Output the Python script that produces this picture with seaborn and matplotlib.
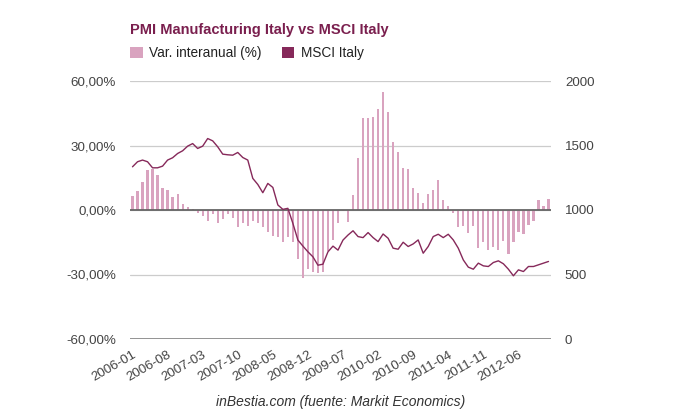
import numpy as np
import pandas as pd
import matplotlib
matplotlib.use("Agg")
import matplotlib.pyplot as plt
from matplotlib.patches import Patch
import seaborn as sns

# ---------------- data ----------------
months = pd.period_range("2006-01", "2012-12", freq="M").strftime("%Y-%m").tolist()

pmi_var = [6.5, 8.7, 12.8, 18.7, 19.2, 16.1, 10.2, 9.3, 6.0, 7.6, 2.8, 1.4,
           0.3, -1.2, -2.8, -4.9, -1.9, -5.9, -4.2, -1.9, -3.9, -7.7, -5.9, -7.4,
           -5.1, -5.9, -7.7, -10.0, -11.9, -12.4, -14.7, -12.4, -14.8, -23.0, -31.5, -27.6,
           -28.7, -29.5, -29.0, -19.0, -14.0, -6.0, -0.5, -5.4, 7.1, 24.0, 42.8, 42.8,
           43.3, 47.0, 54.9, 45.4, 31.4, 27.0, 19.6, 19.2, 10.2, 7.7, 3.4, 7.6,
           9.3, 13.9, 4.5, 1.9, -1.5, -7.7, -7.4, -10.8, -7.4, -17.8, -14.7, -18.5,
           -17.0, -18.5, -14.2, -20.4, -14.7, -10.0, -11.1, -7.0, -4.9, 4.6, 1.9, 5.1]

msci = [1335, 1374, 1387, 1374, 1327, 1327, 1340, 1387, 1405, 1438, 1459, 1495,
        1515, 1477, 1495, 1554, 1536, 1490, 1433, 1428, 1425, 1446, 1407, 1387,
        1245, 1198, 1134, 1206, 1175, 1039, 1005, 1013, 896, 767, 720, 676,
        637, 572, 580, 676, 720, 689, 767, 806, 839, 794, 786, 825,
        786, 755, 814, 781, 704, 696, 750, 717, 737, 768, 665, 717,
        794, 812, 786, 812, 768, 704, 613, 557, 541, 588, 567, 562,
        593, 606, 583, 541, 490, 536, 523, 562, 562, 575, 588, 601]

left_ticks = [-60, -30, 0, 30, 60]
left_tick_labels = ["-60,00%", "-30,00%", "0,00%", "30,00%", "60,00%"]
right_ticks = [0, 500, 1000, 1500, 2000]
right_tick_labels = ["0", "500", "1000", "1500", "2000"]

title = "PMI Manufacturing Italy vs MSCI Italy"
series_names = ["Var. interanual (%)", "MSCI Italy"]
caption = "inBestia.com (fuente: Markit Economics)"

# ---------------- style ----------------
sns.set_theme(style="white")
plt.rcParams["font.family"] = ["Liberation Sans", "DejaVu Sans"]

bar_color = "#d9a3bf"
line_color = "#86295a"
title_color = "#7a1f4e"
text_color = "#444444"

df = pd.DataFrame({"month": months, "pmi": pmi_var, "msci": msci})
df["pos"] = np.arange(len(df))

fig = plt.figure(figsize=(6.8, 4.2), dpi=100)
ax = fig.add_axes([130 / 680, 81 / 420, 421 / 680, 258 / 420])

sns.barplot(data=df, x="month", y="pmi", order=months, color=bar_color,
            width=0.44, saturation=1, linewidth=0, ax=ax)
ax.set_xlim(-0.5, len(months) - 0.5)
ax.set_ylim(-60, 60)
ax.set_yticks(left_ticks)
ax.set_yticklabels(left_tick_labels)
ax.set_xticks(range(0, len(months), 7))
ax.set_xticklabels([months[i] for i in range(0, len(months), 7)],
                   rotation=30, ha="right", rotation_mode="anchor")
ax.set_xlabel("")
ax.set_ylabel("")
ax.tick_params(axis="both", length=0, labelsize=9.6, colors=text_color)
ax.tick_params(axis="y", pad=10)
ax.tick_params(axis="x", pad=7)
for s in ax.spines.values():
    s.set_visible(False)
ax.yaxis.grid(True, color="#cccccc", linewidth=0.9)
ax.set_axisbelow(True)
ax.axhline(0, color="#666666", linewidth=1.3, zorder=1.5)
ax.axhline(-60, color="#777777", linewidth=1.1, zorder=1.5)

ax2 = ax.twinx()
sns.lineplot(data=df, x="pos", y="msci", color=line_color, linewidth=1.0, ax=ax2)
ax2.set_ylim(0, 2000)
ax2.set_xlim(-0.5, len(months) - 0.5)
ax2.set_yticks(right_ticks)
ax2.set_yticklabels(right_tick_labels)
ax2.set_ylabel("")
ax2.set_xlabel("")
ax2.tick_params(axis="y", length=0, labelsize=9.6, colors=text_color, pad=10)
for s in ax2.spines.values():
    s.set_visible(False)
ax2.grid(False)

fig.text(130 / 680, 1 - 30 / 420, title, fontsize=10.5, fontweight="bold",
         color=title_color, va="center", ha="left")

handles = [Patch(facecolor=bar_color, edgecolor="none"),
           Patch(facecolor=line_color, edgecolor="none")]
fig.legend(handles, series_names, loc="center left",
           bbox_to_anchor=(118 / 680, 1 - 53 / 420), ncol=2, frameon=False,
           fontsize=9.8, handlelength=0.9, handleheight=0.9,
           handletextpad=0.5, columnspacing=1.5, labelcolor="#222222")

fig.text(341 / 680, 1 - 402 / 420, caption, fontsize=10, style="italic",
         color="#333333", ha="center", va="center")

fig.savefig("out.png", dpi=100)
